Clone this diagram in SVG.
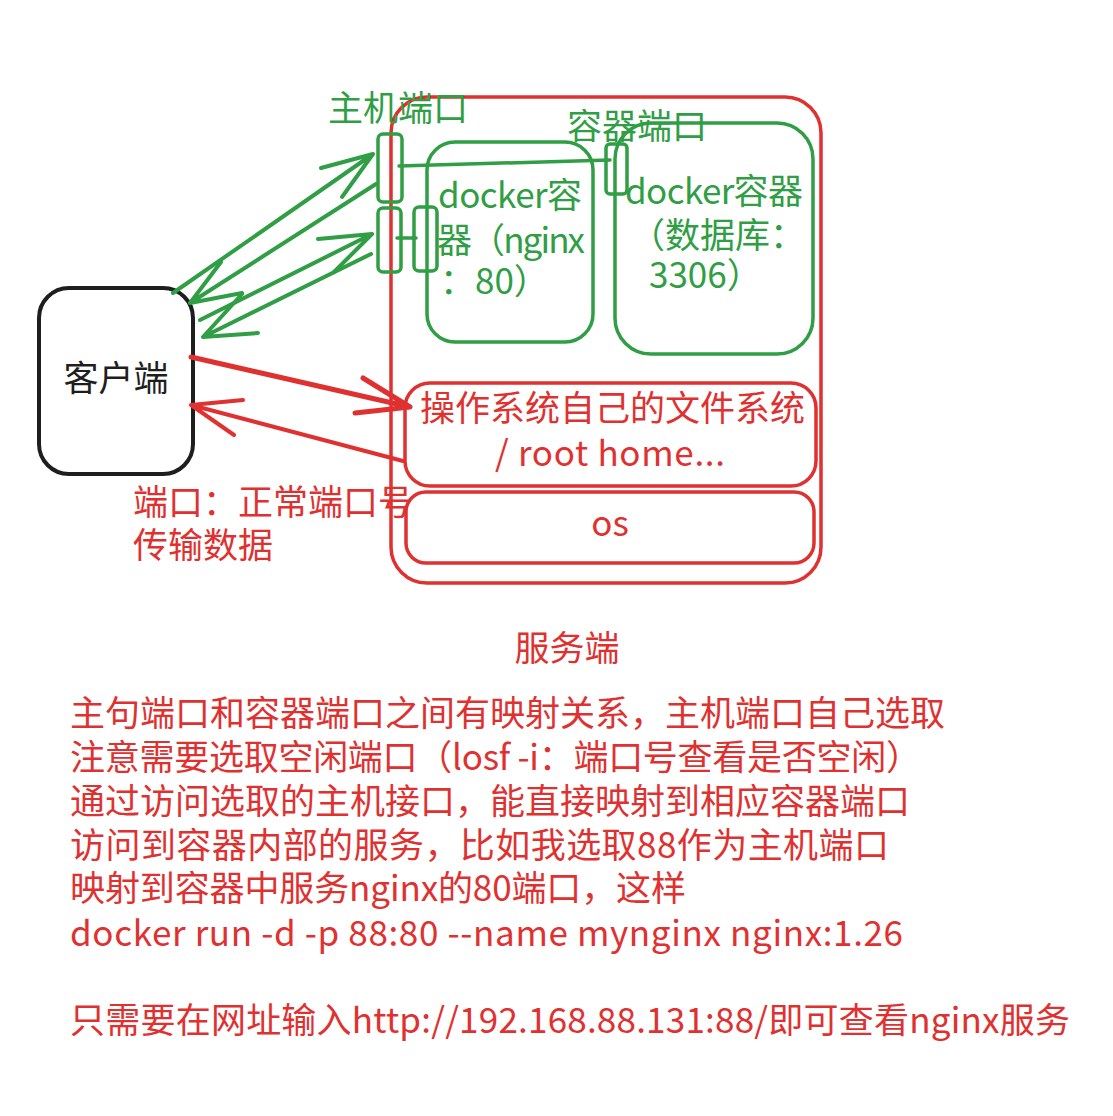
<svg xmlns="http://www.w3.org/2000/svg" width="1113" height="1116" viewBox="0 0 1113 1116">
<style>
text{font-family:"Noto Sans CJK SC","Noto Sans",sans-serif;font-size:35px}
.r{fill:#e03131}.g{fill:#2f9e44}.k{fill:#1e1e1e}
.sr{fill:none;stroke:#e03131;stroke-width:3.5;stroke-linecap:round;stroke-linejoin:round}
.sg{fill:none;stroke:#2f9e44;stroke-width:3.5;stroke-linecap:round;stroke-linejoin:round}
.sk{fill:none;stroke:#1e1e1e;stroke-width:4}
.ag{fill:none;stroke:#2f9e44;stroke-width:4;stroke-linecap:round;stroke-linejoin:round}
.ar{fill:none;stroke:#e03131;stroke-width:4;stroke-linecap:round;stroke-linejoin:round}
</style>
<rect width="1113" height="1116" fill="#ffffff"/>

<g id="server">
<rect class="sr" x="391" y="97" width="430" height="486" rx="36"/>
<text class="r" x="567" y="661" text-anchor="middle">服务端</text>
</g>

<g id="fs">
<rect class="sr" x="405" y="383" width="411" height="103" rx="25"/>
<text class="r" x="420" y="421">操作系统自己的文件系统</text>
<text class="r" x="610" y="466" text-anchor="middle" textLength="230">/ root home...</text>
</g>

<g id="os">
<rect class="sr" x="406" y="492" width="408" height="71" rx="20"/>
<text class="r" x="610" y="536" text-anchor="middle">os</text>
</g>

<g id="container-nginx">
<rect class="sg" x="427" y="142" width="166" height="200" rx="28"/>
<text class="g" x="438" y="208" textLength="144">docker容</text>
<text class="g" x="437" y="253" textLength="148">器（nginx</text>
<text class="g" x="440" y="294">：80）</text>
</g>

<g id="container-db">
<rect class="sg" x="615" y="123" width="198" height="231" rx="36"/>
<text class="g" x="625" y="204" textLength="178">docker容器</text>
<text class="g" x="630" y="248">（数据库：</text>
<text class="g" x="649" y="288">3306）</text>
</g>

<g id="host-port-1"><rect class="sg" x="378" y="134" width="24" height="68" rx="5"/></g>
<g id="host-port-2"><rect class="sg" x="378" y="208" width="23" height="64" rx="5"/></g>
<g id="nginx-port"><rect class="sg" x="414" y="207" width="23" height="64" rx="5"/></g>
<g id="db-port"><rect class="sg" x="606" y="144" width="21" height="50" rx="4"/></g>

<g id="label-host-port"><text class="g" x="328" y="121">主机端口</text></g>
<g id="label-container-port"><text class="g" x="567" y="139">容器端口</text></g>

<g id="client">
<rect class="sk" x="39" y="288" width="154" height="186" rx="30"/>
<text class="k" x="116" y="391" text-anchor="middle">客户端</text>
</g>

<g id="label-port">
<text class="r" x="133" y="515">端口：正常端口号</text>
<text class="r" x="133" y="558">传输数据</text>
</g>

<g id="notes">
<text class="r" x="70" y="726">主句端口和容器端口之间有映射关系，主机端口自己选取</text>
<text class="r" x="70" y="770" textLength="851">注意需要选取空闲端口（losf -i：端口号查看是否空闲）</text>
<text class="r" x="70" y="814">通过访问选取的主机接口，能直接映射到相应容器端口</text>
<text class="r" x="70" y="858" textLength="819">访问到容器内部的服务，比如我选取88作为主机端口</text>
<text class="r" x="70" y="901" textLength="616">映射到容器中服务nginx的80端口，这样</text>
<text class="r" x="70" y="946" textLength="833">docker run -d -p 88:80 --name mynginx nginx:1.26</text>
<text class="r" x="70" y="1033" textLength="1000">只需要在网址输入http://192.168.88.131:88/即可查看nginx服务</text>
</g>

<g id="connectors">
<path class="sg" d="M399 166 L610 160"/>
<path class="sg" d="M397 238 L416 238"/>
<path class="ag" d="M173 293 L373 154 M321 168 L373 154 L342 197"/>
<path class="ag" d="M376 184 L190 303 L242 293 M190 303 L221 262"/>
<path class="ag" d="M200 320 L372 234 M318 239 L372 234 L334 272"/>
<path class="ag" d="M371 254 L203 337 L258 333 M203 337 L242 294"/>
<path class="ar" style="stroke-width:5" d="M191 357 L410 407 M363 378 L410 407 L355 413"/>
<path class="ar" d="M403 461 L191 405 M243 400 L191 405 L234 435"/>
</g>
</svg>
